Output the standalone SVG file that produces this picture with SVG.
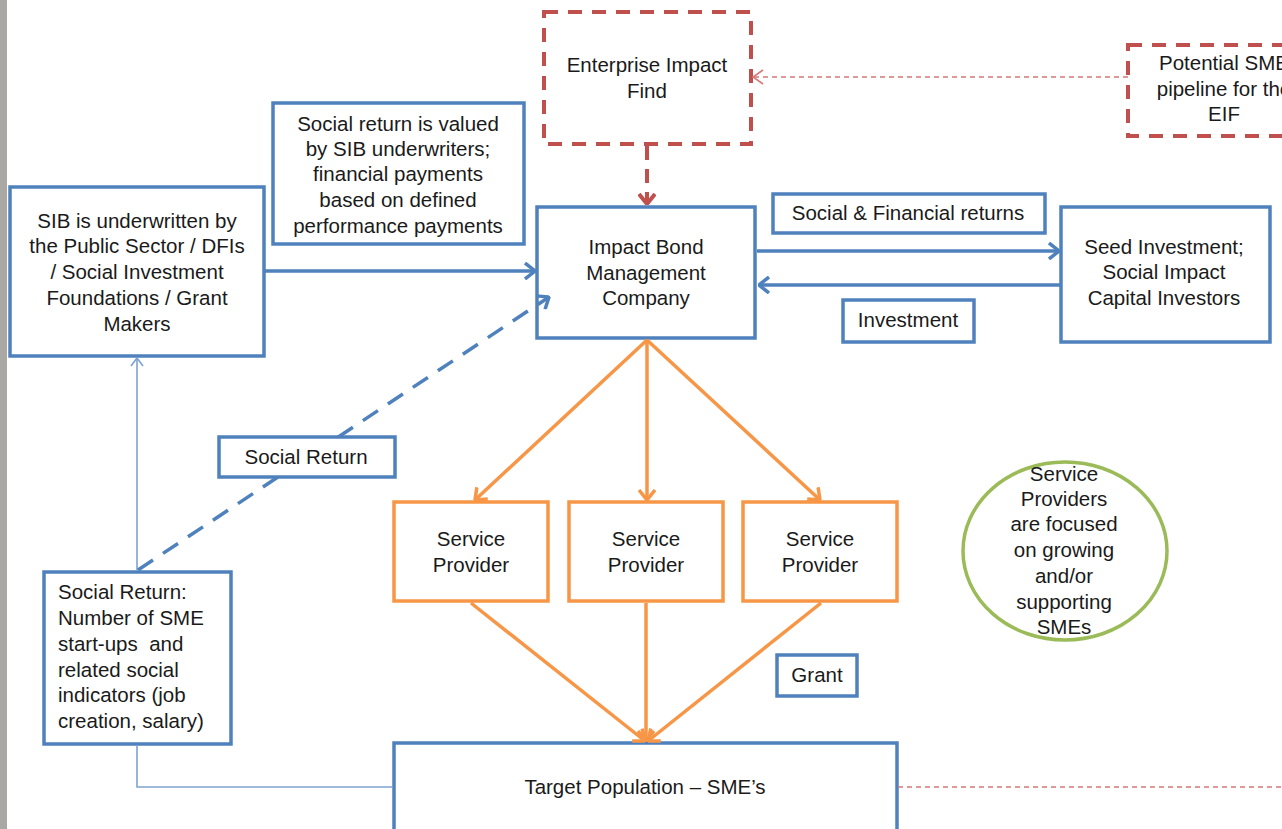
<svg xmlns="http://www.w3.org/2000/svg" width="1282" height="829" viewBox="0 0 1282 829">
  <style>
    text { font-family: "Liberation Sans", Arial, sans-serif; font-size: 20.5px; fill: #1a1a1a; }
    .c { text-anchor: middle; }
    .blue { fill: #fff; stroke: #4f81bd; stroke-width: 3.5; }
    .orange { fill: #fff; stroke: #f79646; stroke-width: 3.5; }
    .reddash { fill: #fff; stroke: #c0504d; stroke-width: 4; stroke-dasharray: 14 10; }
    .green { fill: #fff; stroke: #9bbb59; stroke-width: 3.5; }
    .lb { fill: none; stroke: #4f81bd; stroke-width: 3.5; }
    .lo { fill: none; stroke: #f79646; stroke-width: 3.5; }
    .thin { fill: none; stroke: #7da2d2; stroke-width: 1.6; }
    .rdot { fill: none; stroke: #d47a78; stroke-width: 1.6; stroke-dasharray: 5 4; }
  </style>
  <defs>
    <marker id="ab" markerUnits="userSpaceOnUse" viewBox="0 0 12 18" refX="11" refY="9" markerWidth="12" markerHeight="18" orient="auto">
      <path d="M1,1 L11,9 L1,17" fill="none" stroke="#4f81bd" stroke-width="3.5"/>
    </marker>
    <marker id="ao" markerUnits="userSpaceOnUse" viewBox="0 0 12 18" refX="11" refY="9" markerWidth="12" markerHeight="18" orient="auto">
      <path d="M1,1 L11,9 L1,17" fill="none" stroke="#f79646" stroke-width="3.5"/>
    </marker>
    <marker id="ar" markerUnits="userSpaceOnUse" viewBox="0 0 12 18" refX="11" refY="9" markerWidth="12" markerHeight="18" orient="auto">
      <path d="M1,1 L11,9 L1,17" fill="none" stroke="#c0504d" stroke-width="4"/>
    </marker>
    <marker id="art" markerUnits="userSpaceOnUse" viewBox="0 0 12 16" refX="11" refY="8" markerWidth="12" markerHeight="16" orient="auto">
      <path d="M1,1 L11,8 L1,15" fill="none" stroke="#d47a78" stroke-width="1.6"/>
    </marker>
    <marker id="abt" markerUnits="userSpaceOnUse" viewBox="0 0 10 14" refX="9" refY="7" markerWidth="10" markerHeight="14" orient="auto">
      <path d="M1,1 L9,7 L1,13" fill="none" stroke="#7da2d2" stroke-width="1.6"/>
    </marker>
  </defs>

  <rect x="0" y="0" width="1282" height="829" fill="#fff"/>
  <!-- window edge strip -->
  <rect x="0" y="0" width="7" height="829" fill="#aaa8a4"/>

  <g id="eif">
    <rect class="reddash" x="544" y="12" width="207" height="132"/>
    <text class="c" x="647" y="72">Enterprise Impact</text>
    <text class="c" x="647" y="98">Find</text>
  </g>

  <g id="pipeline">
    <rect class="reddash" x="1128" y="45" width="200" height="91"/>
    <text class="c" x="1224" y="70">Potential SME</text>
    <text class="c" x="1224" y="96">pipeline for the</text>
    <text class="c" x="1224" y="121">EIF</text>
  </g>

  <g id="valuation-note">
    <rect class="blue" x="273" y="103" width="251" height="141"/>
    <text class="c" x="398" y="131">Social return is valued</text>
    <text class="c" x="398" y="156">by SIB underwriters;</text>
    <text class="c" x="398" y="181">financial payments</text>
    <text class="c" x="398" y="207">based on defined</text>
    <text class="c" x="398" y="233">performance payments</text>
  </g>

  <g id="underwriters">
    <rect class="blue" x="10" y="187" width="254" height="169"/>
    <text class="c" x="137" y="228">SIB is underwritten by</text>
    <text class="c" x="137" y="253">the Public Sector / DFIs</text>
    <text class="c" x="137" y="279">/ Social Investment</text>
    <text class="c" x="137" y="305">Foundations / Grant</text>
    <text class="c" x="137" y="331">Makers</text>
  </g>

  <g id="management-company">
    <rect class="blue" x="537" y="207" width="218" height="131"/>
    <text class="c" x="646" y="254">Impact Bond</text>
    <text class="c" x="646" y="280">Management</text>
    <text class="c" x="646" y="305">Company</text>
  </g>

  <g id="returns-label">
    <rect class="blue" x="773" y="194" width="272" height="39"/>
    <text class="c" x="908" y="220">Social &amp; Financial returns</text>
  </g>

  <g id="investors">
    <rect class="blue" x="1061" y="207" width="209" height="135"/>
    <text class="c" x="1164" y="254">Seed Investment;</text>
    <text class="c" x="1164" y="279">Social Impact</text>
    <text class="c" x="1164" y="305">Capital Investors</text>
  </g>

  <g id="investment-label">
    <rect class="blue" x="843" y="300" width="131" height="42"/>
    <text class="c" x="908" y="327">Investment</text>
  </g>

  <g id="social-return-metrics">
    <rect class="blue" x="44" y="572" width="187" height="172"/>
    <text x="58" y="599">Social Return:</text>
    <text x="58" y="625">Number of SME</text>
    <text x="58" y="651">start-ups&#160; and</text>
    <text x="58" y="677">related social</text>
    <text x="58" y="702">indicators (job</text>
    <text x="58" y="728">creation, salary)</text>
  </g>

  <g id="provider-1">
    <rect class="orange" x="394" y="502" width="154" height="99"/>
    <text class="c" x="471" y="546">Service</text>
    <text class="c" x="471" y="572">Provider</text>
  </g>
  <g id="provider-2">
    <rect class="orange" x="569" y="502" width="154" height="99"/>
    <text class="c" x="646" y="546">Service</text>
    <text class="c" x="646" y="572">Provider</text>
  </g>
  <g id="provider-3">
    <rect class="orange" x="743" y="502" width="154" height="99"/>
    <text class="c" x="820" y="546">Service</text>
    <text class="c" x="820" y="572">Provider</text>
  </g>

  <g id="grant-label">
    <rect class="blue" x="777" y="655" width="80" height="41"/>
    <text class="c" x="817" y="682">Grant</text>
  </g>

  <g id="provider-focus">
    <ellipse class="green" cx="1065" cy="551" rx="102" ry="89"/>
    <text class="c" x="1064" y="481">Service</text>
    <text class="c" x="1064" y="506">Providers</text>
    <text class="c" x="1064" y="531">are focused</text>
    <text class="c" x="1064" y="557">on growing</text>
    <text class="c" x="1064" y="583">and/or</text>
    <text class="c" x="1064" y="609">supporting</text>
    <text class="c" x="1064" y="634">SMEs</text>
  </g>

  <g id="target-population">
    <rect class="blue" x="394" y="743" width="503" height="100"/>
    <text class="c" x="645" y="794">Target Population – SME’s</text>
  </g>

  <g id="connectors">
    <!-- feedback lines -->
    <line class="rdot" x1="1128" y1="77" x2="753" y2="77" marker-end="url(#art)"/>
    <line class="rdot" x1="898" y1="787" x2="1282" y2="787"/>
    <polyline class="thin" points="393,787 137,787 137,745"/>
    <line class="thin" x1="137" y1="570" x2="137" y2="358" marker-end="url(#abt)"/>
    <!-- EIF to management company -->
    <line x1="647" y1="146" x2="647" y2="204" fill="none" stroke="#c0504d" stroke-width="4" stroke-dasharray="14 9" marker-end="url(#ar)"/>
    <!-- blue flows -->
    <line class="lb" x1="265" y1="271" x2="535" y2="271" marker-end="url(#ab)"/>
    <line class="lb" x1="757" y1="251" x2="1059" y2="251" marker-end="url(#ab)"/>
    <line class="lb" x1="1060" y1="285" x2="759" y2="285" marker-end="url(#ab)"/>
    <line class="lb" x1="138" y1="570" x2="549" y2="297" stroke-dasharray="18 12" marker-end="url(#ab)"/>
    <!-- orange flows -->
    <line class="lo" x1="647" y1="340" x2="475" y2="500" marker-end="url(#ao)"/>
    <line class="lo" x1="647" y1="340" x2="647" y2="500" marker-end="url(#ao)"/>
    <line class="lo" x1="647" y1="340" x2="820" y2="500" marker-end="url(#ao)"/>
    <line class="lo" x1="471" y1="603" x2="645" y2="741" marker-end="url(#ao)"/>
    <line class="lo" x1="646" y1="603" x2="646" y2="741" marker-end="url(#ao)"/>
    <line class="lo" x1="821" y1="603" x2="648" y2="741" marker-end="url(#ao)"/>
  </g>

  <!-- label box sits over the dashed return line -->
  <g id="social-return-label">
    <rect class="blue" x="219" y="437" width="176" height="40"/>
    <text class="c" x="306" y="464">Social Return</text>
  </g>
</svg>
